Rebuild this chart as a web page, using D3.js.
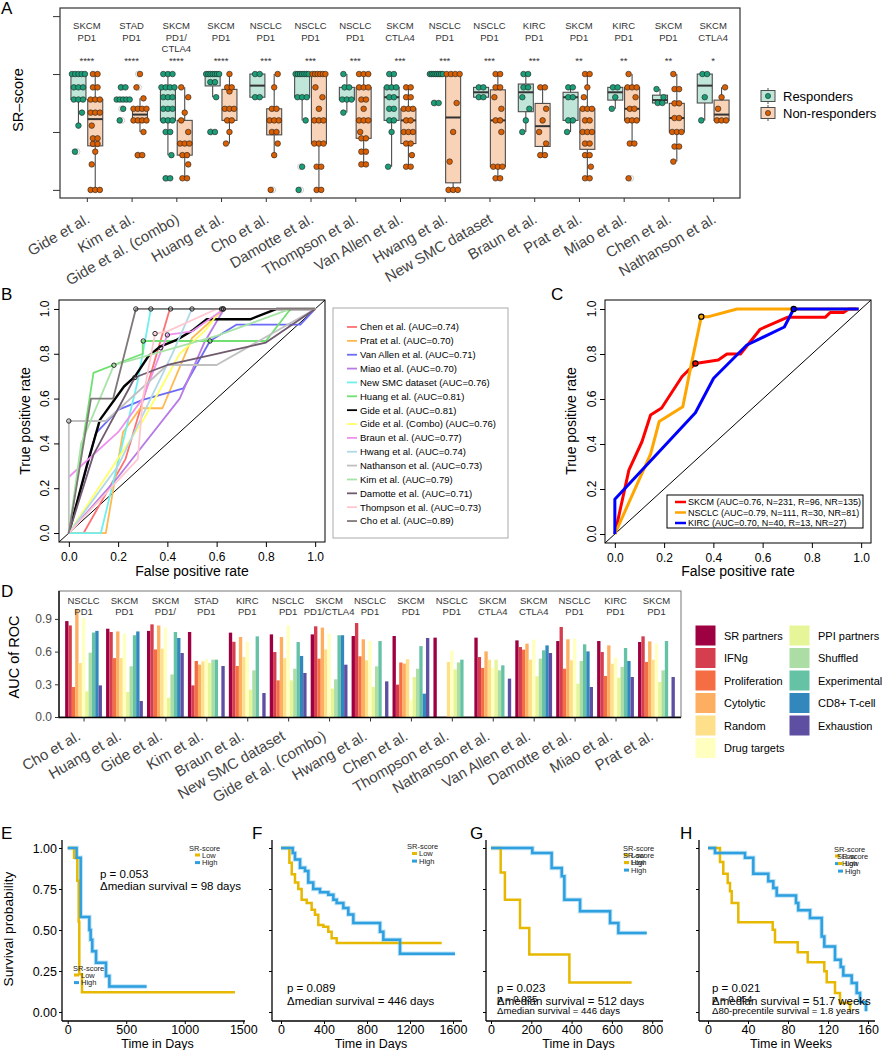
<!DOCTYPE html>
<html><head><meta charset="utf-8">
<script src="https://d3js.org/d3.v7.min.js"></script>
<style>body{margin:0;background:#fff;}svg{display:block;}</style>
</head><body>
<svg id="fig" width="883" height="1050" xmlns="http://www.w3.org/2000/svg"></svg>
<script>
// ================= DATA =================
// ---- Panel A ----
const datasetsA = ["Gide et al.","Kim et al.","Gide et al. (combo)","Huang et al.","Cho et al.","Damotte et al.","Thompson et al.","Van Allen et al.","Hwang et al.","New SMC dataset","Braun et al.","Prat et al.","Miao et al.","Chen et al.","Nathanson et al."];
const cancerA = ["SKCM","STAD","SKCM","SKCM","NSCLC","NSCLC","NSCLC","SKCM","NSCLC","NSCLC","KIRC","SKCM","KIRC","SKCM","SKCM"];
const therapyA = ["PD1","PD1","PD1/\nCTLA4","PD1","PD1","PD1","PD1","CTLA4","PD1","PD1","PD1","PD1","PD1","PD1","CTLA4"];
const starsA = ["****","****","****","****","***","***","***","***","***","***","***","**","**","**","*"];
const respA = [
 [0.33,0.555,0.667,0.78,0.78,0.78,0.885,0.885,0.885,1,1,1,1,1],
 [0.6,0.7,0.78,0.78,0.78,0.78,0.78,0.885,0.885],
 [0.1,0.1,0.3,0.5,0.5,0.6,0.6,0.6,0.7,0.7,0.7,0.8,0.8,0.8,0.885,0.885,0.885,0.885,1,1,1],
 [0.5,0.5,0.8,0.93,0.93,1,1,1,1,1,1,1],
 [0.8,0.8,1,1],
 [0,0.2,0.6,0.8,0.8,0.8,1,1,1,1,1,1,1],
 [0.667,0.78,0.78,0.78,0.885,0.885,1],
 [0.2,0.5,0.6,0.6,0.7,0.7,0.8,0.8,0.885,0.885,0.885,1,1],
 [0.75,0.75,1,1,1,1,1,1,1,1],
 [0.8,0.8,0.885,0.885],
 [0.5,0.6,0.7,0.8,0.885,0.885,1,1],
 [0.5,0.6,0.6,0.8,0.8,0.885,0.885],
 [0.7,0.8,0.885,0.885],
 [0.75,0.75,0.8,0.87],
 [0.6,0.8,1,1]
];
const nonRespA = [
 [0,0,0,0.22,0.33,0.397,0.397,0.445,0.445,0.555,0.667,0.667,0.667,0.78,0.78,0.78,0.885,0.885,1,1],
 [0.3,0.3,0.5,0.6,0.6,0.6,0.6,0.7,0.7,0.7,0.7,0.79,0.885,1],
 [0.1,0.1,0.22,0.3,0.3,0.4,0.4,0.4,0.5,0.6,0.667,0.8,0.885],
 [0.4,0.5,0.6,0.6,0.7,0.7,0.7,0.85,0.885,0.885,1],
 [0,0.3,0.4,0.5,0.5,0.6,0.6,0.6,0.7,0.7,0.885,1],
 [0,0,0.2,0.2,0.4,0.4,0.4,0.6,0.6,0.6,0.7,0.8,0.885,1,1,1,1,1,1],
 [0.22,0.22,0.33,0.33,0.445,0.445,0.5,0.6,0.6,0.6,0.7,0.78,0.78,0.885,0.885,0.885,1,1,1],
 [0.2,0.2,0.3,0.4,0.4,0.5,0.5,0.5,0.6,0.6,0.7,0.7,0.7,0.8,0.8,0.885,0.885],
 [0,0,0,0.244,0.5,0.75,1,1,1,1],
 [0.1,0.1,0.2,0.2,0.2,0.5,0.6,0.6,0.7,0.8,0.885,0.885,1,1],
 [0.3,0.3,0.4,0.5,0.6,0.7,0.885,0.885],
 [0.1,0.1,0.2,0.3,0.3,0.4,0.4,0.5,0.5,0.5,0.6,0.6,0.7,0.7,0.7,0.8,0.885,1,1],
 [0.1,0.4,0.4,0.6,0.6,0.6,0.7,0.7,0.8,0.885,0.885,0.885,1],
 [0.244,0.374,0.374,0.5,0.5,0.5,0.62,0.62,0.747,0.747,0.87,0.87,1],
 [0.6,0.6,0.6,0.7,0.8,0.885]
];
const groupsA = ["Responders","Non-responders"];

// ---- Panel B ----
const rocNamesB = ["Chen et al.","Prat et al.","Van Allen et al.","Miao et al.","New SMC dataset","Huang et al.","Gide et al.","Gide et al. (Combo)","Braun et al.","Hwang et al.","Nathanson et al.","Kim et al.","Damotte et al.","Thompson et al.","Cho et al."];
const aucB = [0.74,0.70,0.71,0.70,0.76,0.81,0.81,0.76,0.77,0.74,0.73,0.79,0.71,0.73,0.89];
const fprB = [
 [0,0.06,0.23,0.33,0.41,1],
 [0,0.15,0.22,0.29,0.38,0.5,0.63,1],
 [0,0.11,0.2,0.3,0.465,0.573,0.68,0.94,1],
 [0,0.2,0.45,0.55,0.63,1],
 [0,0.13,0.28,0.333,1],
 [0,0.1,0.3,0.3,0.8,0.9,1],
 [0,0.072,0.126,0.224,0.268,0.322,0.37,0.438,0.505,0.56,0.736,0.844,1],
 [0,0.3,0.45,0.55,0.62,1],
 [0,0.2,0.3,0.4,0.5,0.63,1],
 [0,0.2,0.42,0.5,1],
 [0,0,0.15,0.4,0.6,1],
 [0,0.05,0.183,0.6,0.9,1],
 [0,0.1,0.268,0.4,0.6,0.8,1],
 [0,0.28,0.3,0.35,0.4,0.6,1],
 [0,0.09,0.18,0.272,1]
];
const tprB = [
 [0,0,0.33,0.7,1,1],
 [0,0,0.45,0.557,0.557,0.87,1,1],
 [0,0.446,0.55,0.594,0.646,0.857,0.93,0.93,1],
 [0,0.25,0.6,0.85,1,1],
 [0,0,0.68,1,1],
 [0,0.715,0.8,0.857,0.857,1,1],
 [0,0.297,0.505,0.654,0.698,0.788,0.832,0.862,0.906,0.954,0.954,1,1],
 [0,0.5,0.8,0.9,1,1],
 [0.25,0.45,0.6,0.884,0.9,1,1],
 [0,0.3,0.8,1,1],
 [0,0.5,0.5,0.75,0.75,1],
 [0,0.4,0.749,0.88,1,1],
 [0,0.35,0.694,0.75,0.8,0.85,1],
 [0,0.33,0.6,0.89,0.9,1,1],
 [0,0.6,0.6,1,1]
];
const markFprB = [0.413,0.627,0.573,0.627,0.333,0.302,0.373,0.62,0.4,0.5,0,0.183,0.268,0.35,0.272];
const markTprB = [1,1,0.857,1,1,0.857,0.827,1,0.884,1,0.5,0.749,0.694,0.89,1];

// ---- Panel C ----
const groupsC = ["SKCM","NSCLC","KIRC"];
const aucC = [0.76,0.79,0.70];
const nC = [231,111,40];
const rC = [96,30,13];
const nrC = [135,81,27];
const fprC = [
 [0,0.02,0.057,0.11,0.145,0.19,0.273,0.327,0.42,0.455,0.51,0.59,0.7,0.854,0.874,0.928,0.95,0.98],
 [0,0.145,0.18,0.276,0.307,0.351,0.381,0.496,0.726,0.99],
 [0,0,0.327,0.401,0.536,0.688,0.726,0.99]
];
const tprC = [
 [0,0.1,0.284,0.41,0.529,0.56,0.7,0.758,0.773,0.8,0.8,0.91,0.963,0.963,0.984,0.984,1,1],
 [0,0.355,0.5,0.566,0.736,0.966,0.966,1,1,1],
 [0,0.154,0.539,0.692,0.84,0.92,1,1]
];
const markFprC = [0.327,0.351,0.726];
const markTprC = [0.758,0.966,1];

// ---- Panel D ----
const datasetsD = ["Cho et al.","Huang et al.","Gide et al.","Kim et al.","Braun et al.","New SMC dataset","Gide et al. (combo)","Hwang et al.","Chen et al.","Thompson et al.","Nathanson et al.","Van Allen et al.","Damotte et al.","Miao et al.","Prat et al."];
const cancerD = ["NSCLC","SKCM","SKCM","STAD","KIRC","NSCLC","SKCM","NSCLC","SKCM","NSCLC","SKCM","SKCM","NSCLC","KIRC","SKCM"];
const therapyD = ["PD1","PD1","PD1/","PD1","PD1","PD1","PD1/CTLA4","PD1","PD1","PD1","CTLA4","CTLA4","PD1","PD1","PD1"];
const methodsD = ["SR partners","IFNg","Proliferation","Cytolytic","Random","Drug targets","PPI partners","Shuffled","Experimental","CD8+ T-cell","Exhaustion"];
const aucD = [
 [0.88,0.84,0.275,0.99,0.495,0.91,0.235,0.59,0.775,0.79,0.29],
 [0.81,0.78,0.54,0.785,0.54,0.765,0.23,0.465,0.75,0.785,0.147],
 [0.79,0.85,0.62,0.84,0.627,0.82,0.177,0.39,0.78,0.725,0.587],
 [0.78,0.29,0.514,0.48,0.51,0.53,0.495,0.526,0.526,null,0.468],
 [0.774,0.69,0.468,0.734,0.55,0.69,0.25,0.428,0.74,null,0.22],
 [0.758,0.596,0.336,0.734,0.54,0.84,0.336,0.443,0.688,0.56,0.404],
 [0.758,0.832,0.535,0.82,0.62,0.765,0.26,0.346,0.75,0.75,0.48],
 [0.743,0.862,0.557,0.713,0.52,0.697,0.275,0.465,0.697,null,0.327],
 [0.743,0.297,0.5,0.49,0.53,0.16,0.367,0.443,0.65,0.214,0.725],
 [0.728,null,null,null,0.505,0.61,0.437,0.5,0.526,null,null],
 [0.728,0.55,0.45,0.602,0.526,0.45,0.526,0.428,0.474,null,0.352],
 [0.703,0.642,0.618,0.673,0.526,0.71,0.373,0.535,0.612,0.657,0.587],
 [0.697,0.826,0.443,0.713,0.52,0.719,0.306,0.514,0.667,0.602,0.275],
 [0.697,0.596,0.376,0.657,0.489,0.544,0.36,0.459,0.633,0.514,0.367],
 [0.688,0.74,0.505,0.694,0.526,0.673,0.321,0.428,0.697,null,0.367]
];

// ---- Panels E-H (Kaplan-Meier) ----
const tE_low = [0,54,82,94,99,122,1429];
const sE_low = [1,0.94,0.8,0.55,0.23,0.12,0.12];
const tE_high = [0,76,111,185,196,210,242,327,356,674];
const sE_high = [1,0.94,0.58,0.5,0.44,0.37,0.3,0.22,0.156,0.156];
const tF_low = [0,78,100,130,161,192,239,285,316,347,394,440,471,518,1495];
const sF_low = [1,0.91,0.84,0.79,0.75,0.685,0.665,0.624,0.593,0.53,0.52,0.49,0.45,0.42,0.42];
const tF_high = [0,109,130,177,223,254,300,363,440,487,518,580,626,673,921,952,1107,1619];
const sF_high = [1,0.97,0.93,0.88,0.86,0.79,0.75,0.73,0.715,0.685,0.665,0.634,0.594,0.543,0.49,0.44,0.355,0.355];
const tG_low = [0,48,69,144,190,389,698];
const sG_low = [1,0.85,0.685,0.512,0.35,0.18,0.18];
const tG_high = [0,205,301,351,364,442,591,632,773];
const sG_high = [1,0.97,0.878,0.827,0.685,0.614,0.543,0.482,0.482];
const tH_low = [0,12,15.3,19.7,22,23.7,30.3,64.7,67,89.7,99.7,116.3,118.7,127,132,142];
const sH_low = [1,0.915,0.843,0.787,0.736,0.665,0.547,0.502,0.425,0.364,0.303,0.248,0.181,0.116,0.055,0.004];
const tH_high = [0,7,37,45.3,60.3,65.3,68.7,88,90.3,102,113.7,116.3,127,132.7,135.3,143.7,148.7,152,158];
const sH_high = [1,0.97,0.94,0.843,0.797,0.756,0.711,0.665,0.62,0.573,0.461,0.4,0.319,0.274,0.222,0.177,0.116,0.059,0.004];
const survTicksY = [0,0.25,0.5,0.75,1];
const survTicksE = [0,500,1000,1500];
const survTicksF = [0,400,800,1200,1600];
const survTicksG = [0,200,400,600,800];
const survTicksH = [0,40,80,120,160];

// ================= STYLES =================
const FONT = '"Liberation Sans", Arial, Helvetica, sans-serif';
const fillA = ["#bfe6d8","#f8d3b8"], ptA = ["#1b9e77","#d95f02"];
const colorsB = ["#ff7070","#ffb84d","#6b6bf5","#b77be8","#6ff0f0","#70e070","#000000","#ffff66","#ee90ee","#b0d8e6","#c0c0c0","#a8e4a8","#6f5a6e","#ffc8d0","#7f7878"];
const colorsC = ["#ff0000","#ffa500","#0000ff"];
const colorsD = ["#9e0142","#d53e4f","#f46d43","#fdae61","#fee08b","#ffffbf","#e6f598","#abdda4","#66c2a5","#3288bd","#5e4fa2"];
const LOW = "#E7B800", HIGH = "#2E9FDF";

const svg = d3.select("#fig").style("font-family", FONT);
svg.append("rect").attr("width",883).attr("height",1050).attr("fill","#fff");

function T(g,x,y,s,size,o={}){
  const t=g.append("text").attr("x",x).attr("y",y).attr("font-size",size)
    .attr("fill",o.fill||"#000").attr("text-anchor",o.anchor||"start").attr("font-family",FONT).text(s);
  if(o.rotate!=null) t.attr("transform",`rotate(${o.rotate},${x},${y})`);
  return t;
}
function styleAxis(g,size,color,lineColor){
  g.select(".domain").remove();
  g.selectAll("text").attr("font-size",size).attr("fill",color).attr("font-family",FONT);
  g.selectAll("line").attr("stroke",lineColor||"#000");
}

// panel letters
T(svg,1,14,"A",17); T(svg,1,300,"B",17); T(svg,551,300,"C",17); T(svg,1,597,"D",17);
T(svg,1,839,"E",17); T(svg,252,839,"F",17); T(svg,470,839,"G",17); T(svg,680,839,"H",17);

// ================= PANEL A =================
(function(){
  const g=svg.append("g");
  const xA=d3.scalePoint().domain(datasetsA).range([60,740]).padding(0.6);
  const yA=d3.scaleLinear().domain([-0.07,1.57]).range([198,8]);
  const DODGE=8.4, BW=15;
  function boxStats(v){const s=v.slice().sort(d3.ascending);const q1=d3.quantile(s,.25),med=d3.quantile(s,.5),q3=d3.quantile(s,.75),iqr=q3-q1;
    const inl=s.filter(x=>x>=q1-1.5*iqr-1e-9&&x<=q3+1.5*iqr+1e-9);
    return {q1,med,q3,lo:d3.min(inl),hi:d3.max(inl),out:s.filter(x=>x<q1-1.5*iqr-1e-9||x>q3+1.5*iqr+1e-9)};}
  function offsets(v){const counts=d3.rollup(v,a=>a.length,d=>d);const seen=new Map();
    return v.map((d,i)=>{const k=counts.get(d);const j=seen.get(d)||0;seen.set(d,j+1);
      if(k===1) return ((i%3)-1)*3.5; const sp=Math.min(4.6,13/(k-1)); return (j-(k-1)/2)*sp;});}
  datasetsA.forEach((d,i)=>{
    const cx=xA(d);
    [respA[i],nonRespA[i]].forEach((vals,gi)=>{
      const st=boxStats(vals), bx=cx+(gi===0?-DODGE:DODGE);
      g.append("line").attr("x1",bx).attr("x2",bx).attr("y1",yA(st.hi)).attr("y2",yA(st.lo)).attr("stroke","#4d4d4d").attr("stroke-width",1.1);
      g.append("rect").attr("x",bx-BW/2).attr("y",yA(st.q3)).attr("width",BW).attr("height",Math.max(0.01,yA(st.q1)-yA(st.q3)))
        .attr("fill",fillA[gi]).attr("stroke","#4d4d4d").attr("stroke-width",1.1);
      g.append("line").attr("x1",bx-BW/2).attr("x2",bx+BW/2).attr("y1",yA(st.med)).attr("y2",yA(st.med)).attr("stroke","#333").attr("stroke-width",2);
      st.out.forEach(v=>g.append("circle").attr("cx",bx-1.5).attr("cy",yA(v)).attr("r",3).attr("fill","none").attr("stroke","#cfcfcf").attr("stroke-width",1));
      const off=offsets(vals);
      vals.forEach((v,j)=>g.append("circle").attr("cx",bx+off[j]).attr("cy",yA(v)).attr("r",2.8).attr("fill",ptA[gi]).attr("stroke","#222").attr("stroke-width",0.6));
    });
    const lines=[cancerA[i]].concat(therapyA[i].split("\n"));
    lines.forEach((s,k)=>T(g,cx,29.2+k*11.3,s,9.5,{anchor:"middle",fill:"#333"}));
    T(g,cx,63.5,starsA[i],9.5,{anchor:"middle",fill:"#333"});
    T(g,cx+4,222,d,15,{anchor:"end",fill:"#444",rotate:-30});
  });
  g.append("g").attr("transform","translate(60,0)").call(d3.axisLeft(yA).tickValues([0,0.5,1,1.5]).tickFormat("").tickSize(7)).call(a=>styleAxis(a,10,"#333","#333"));
  g.append("g").attr("transform","translate(0,198)").call(d3.axisBottom(xA).tickFormat("").tickSize(4)).call(a=>styleAxis(a,10,"#333","#333"));
  g.append("rect").attr("x",60).attr("y",8).attr("width",680).attr("height",190).attr("fill","none").attr("stroke","#333").attr("stroke-width",1.2);
  T(g,23,100,"SR\u2013score",14.5,{anchor:"middle",rotate:-90});
  groupsA.forEach((s,gi)=>{
    const cy=96+gi*17;
    g.append("line").attr("x1",768).attr("x2",768).attr("y1",cy-8).attr("y2",cy+8).attr("stroke","#4d4d4d");
    g.append("rect").attr("x",761).attr("y",cy-5.5).attr("width",14).attr("height",11).attr("fill",fillA[gi]).attr("stroke","#4d4d4d");
    g.append("circle").attr("cx",768).attr("cy",cy).attr("r",2.6).attr("fill",ptA[gi]).attr("stroke","#222").attr("stroke-width",0.6);
    T(g,783,cy+4.6,s,13);
  });
})();

// ================= PANEL B =================
(function(){
  const g=svg.append("g");
  const xB=d3.scaleLinear().domain([-0.04,1.04]).range([59,325]);
  const yB=d3.scaleLinear().domain([-0.04,1.04]).range([542,300]);
  g.append("clipPath").attr("id","clipB").append("rect").attr("x",59).attr("y",300).attr("width",266).attr("height",242);
  const p=g.append("g").attr("clip-path","url(#clipB)");
  p.append("line").attr("x1",xB(-0.04)).attr("y1",yB(-0.04)).attr("x2",xB(1.04)).attr("y2",yB(1.04)).attr("stroke","#000").attr("stroke-width",1);
  const line=d3.line().x(d=>xB(d[0])).y(d=>yB(d[1]));
  rocNamesB.forEach((n,i)=>p.append("path").attr("d",line(d3.zip(fprB[i],tprB[i]))).attr("fill","none")
    .attr("stroke",colorsB[i]).attr("stroke-width",n==="Gide et al."?2.4:1.8).attr("stroke-linejoin","round"));
  rocNamesB.forEach((n,i)=>p.append("circle").attr("cx",xB(markFprB[i])).attr("cy",yB(markTprB[i])).attr("r",2.2).attr("fill","none").attr("stroke","#222").attr("stroke-width",1));
  g.append("rect").attr("x",59).attr("y",300).attr("width",266).attr("height",242).attr("fill","none").attr("stroke","#000");
  const tk=[0,0.2,0.4,0.6,0.8,1];
  g.append("g").attr("transform","translate(0,542)").call(d3.axisBottom(xB).tickValues(tk).tickFormat(d3.format(".1f")).tickSize(5).tickPadding(5)).call(a=>styleAxis(a,12,"#000"));
  g.append("g").attr("transform","translate(59,0)").call(d3.axisLeft(yB).tickValues(tk).tickFormat("").tickSize(5)).call(a=>styleAxis(a,12,"#000"));
  tk.forEach(v=>T(g,49.5,yB(v),d3.format(".1f")(v),12,{anchor:"middle",rotate:-90}));
  T(g,192,576,"False positive rate",14,{anchor:"middle"});
  T(g,30,421,"True positive rate",14,{anchor:"middle",rotate:-90});
  // legend
  g.append("rect").attr("x",333).attr("y",308).attr("width",175).attr("height",230).attr("fill","#fff").attr("stroke","#aaa");
  rocNamesB.forEach((n,i)=>{const y=327+i*13.86;
    g.append("line").attr("x1",347).attr("x2",357).attr("y1",y).attr("y2",y).attr("stroke",colorsB[i]).attr("stroke-width",1.8);
    T(g,360,y+3.4,`${n} (AUC=${aucB[i].toFixed(2)})`,9.5);});
})();

// ================= PANEL C =================
(function(){
  const g=svg.append("g");
  const xC=d3.scaleLinear().domain([-0.04,1.04]).range([605,871]);
  const yC=d3.scaleLinear().domain([-0.04,1.04]).range([543,300]);
  g.append("clipPath").attr("id","clipC").append("rect").attr("x",605).attr("y",300).attr("width",266).attr("height",243);
  const p=g.append("g").attr("clip-path","url(#clipC)");
  p.append("line").attr("x1",xC(-0.04)).attr("y1",yC(-0.04)).attr("x2",xC(1.04)).attr("y2",yC(1.04)).attr("stroke","#000").attr("stroke-width",1);
  const line=d3.line().x(d=>xC(d[0])).y(d=>yC(d[1]));
  groupsC.forEach((n,i)=>p.append("path").attr("d",line(d3.zip(fprC[i],tprC[i]))).attr("fill","none").attr("stroke",colorsC[i]).attr("stroke-width",3).attr("stroke-linejoin","round"));
  groupsC.forEach((n,i)=>p.append("circle").attr("cx",xC(markFprC[i])).attr("cy",yC(markTprC[i])).attr("r",2.6).attr("fill",colorsC[i]).attr("stroke","#000").attr("stroke-width",1.2));
  g.append("rect").attr("x",605).attr("y",300).attr("width",266).attr("height",243).attr("fill","none").attr("stroke","#000");
  const tk=[0,0.2,0.4,0.6,0.8,1];
  g.append("g").attr("transform","translate(0,543)").call(d3.axisBottom(xC).tickValues(tk).tickFormat(d3.format(".1f")).tickSize(5).tickPadding(5)).call(a=>styleAxis(a,12,"#000"));
  g.append("g").attr("transform","translate(605,0)").call(d3.axisLeft(yC).tickValues(tk).tickFormat("").tickSize(5)).call(a=>styleAxis(a,12,"#000"));
  tk.forEach(v=>T(g,596,yC(v),d3.format(".1f")(v),12,{anchor:"middle",rotate:-90}));
  T(g,738,576,"False positive rate",14,{anchor:"middle"});
  T(g,576,421,"True positive rate",14,{anchor:"middle",rotate:-90});
  g.append("rect").attr("x",667).attr("y",495).attr("width",196).attr("height",33).attr("fill","#fff").attr("stroke","#000");
  groupsC.forEach((n,i)=>{const y=502+i*10.5;
    g.append("line").attr("x1",675).attr("x2",686).attr("y1",y).attr("y2",y).attr("stroke",colorsC[i]).attr("stroke-width",2.5);
    T(g,688,y+3.2,`${n} (AUC=${aucC[i].toFixed(2)}, N=${nC[i]}, R=${rC[i]}, NR=${nrC[i]})`,9);});
})();

// ================= PANEL D =================
(function(){
  const g=svg.append("g");
  const xD=d3.scalePoint().domain(datasetsD).range([59,681]).padding(0.6);
  const sub=d3.scaleBand().domain(methodsD).range([-18.4,18.4]);
  const yD=d3.scaleLinear().domain([0,1]).range([717,608]);
  g.append("rect").attr("x",59).attr("y",591).attr("width",622).attr("height",126).attr("fill","none").attr("stroke","#777");
  datasetsD.forEach((d,i)=>methodsD.forEach((m,j)=>{const v=aucD[i][j]; if(v==null) return;
    g.append("rect").attr("x",xD(d)+sub(m)).attr("y",yD(v)).attr("width",sub.bandwidth()).attr("height",yD(0)-yD(v)).attr("fill",colorsD[j]);}));
  datasetsD.forEach((d,i)=>{
    T(g,xD(d),603.5,cancerD[i],9.5,{anchor:"middle",fill:"#333"});
    T(g,xD(d),614.5,therapyD[i],9.5,{anchor:"middle",fill:"#333"});
    T(g,xD(d)-2,739,d,15,{anchor:"end",fill:"#444",rotate:-30});
  });
  g.append("line").attr("x1",59).attr("x2",59).attr("y1",591).attr("y2",717.5).attr("stroke","#000").attr("stroke-width",1.3);
  g.append("line").attr("x1",58.5).attr("x2",681).attr("y1",717.5).attr("y2",717.5).attr("stroke","#000").attr("stroke-width",1.3);
  g.append("g").attr("transform","translate(59,0)").call(d3.axisLeft(yD).tickValues([0,0.3,0.6,0.9]).tickFormat(d3.format(".1f")).tickSize(4).tickPadding(3)).call(a=>styleAxis(a,12,"#4d4d4d","#333"));
  g.append("g").attr("transform","translate(0,717.5)").call(d3.axisBottom(xD).tickFormat("").tickSize(4)).call(a=>styleAxis(a,12,"#4d4d4d","#333"));
  T(g,19,657,"AUC of ROC",14.5,{anchor:"middle",rotate:-90});
  methodsD.forEach((m,j)=>{const col=j<6?0:1, row=j<6?j:j-6;
    const x=col===0?695:789, y=625+row*22.5;
    g.append("rect").attr("x",x).attr("y",y).attr("width",21).attr("height",21).attr("fill",colorsD[j]).attr("stroke","#fff");
    T(g,x+29,y+14.8,m,11);});
})();

// ================= PANELS E-H =================
const yS=d3.scaleLinear().domain([0,1]).range([1012,848]);
function survPanel(opt){
  const g=svg.append("g");
  const xs=opt.x;
  const step=d3.line().curve(d3.curveStepAfter).x(d=>xs(d[0])).y(d=>yS(d[1]));
  g.append("line").attr("x1",opt.ax0).attr("x2",opt.ax1).attr("y1",1021).attr("y2",1021).attr("stroke","#000").attr("stroke-width",1.3);
  g.append("line").attr("x1",opt.ax0).attr("x2",opt.ax0).attr("y1",840).attr("y2",1021).attr("stroke","#000").attr("stroke-width",1.3);
  g.append("g").attr("transform","translate(0,1021)").call(d3.axisBottom(xs).tickValues(opt.ticks).tickFormat(d3.format("d")).tickSize(3).tickPadding(1)).call(a=>styleAxis(a,12.5,"#000"));
  g.append("g").attr("transform",`translate(${opt.ax0},0)`).call(d3.axisLeft(yS).tickValues(survTicksY).tickFormat(opt.showY?d3.format(".2f"):"").tickSize(3).tickPadding(2)).call(a=>styleAxis(a,12.5,"#000"));
  T(g,(opt.ax0+opt.ax1)/2+4,1048,opt.xlabel,12.5,{anchor:"middle"});
  g.append("path").attr("d",step(d3.zip(opt.tHigh,opt.sHigh))).attr("fill","none").attr("stroke","#bfe3f6").attr("stroke-width",4.5);
  g.append("path").attr("d",step(d3.zip(opt.tLow,opt.sLow))).attr("fill","none").attr("stroke",LOW).attr("stroke-width",2.5);
  g.append("path").attr("d",step(d3.zip(opt.tHigh,opt.sHigh))).attr("fill","none").attr("stroke",HIGH).attr("stroke-width",2.5);
  return g;
}
function survLegend(g,tx,ty,kx){
  T(g,tx,ty+2.7,"SR-score",7.5,{fill:"#222"});
  [["Low",LOW],["High",HIGH]].forEach(([s,c],k)=>{const y=ty+7+k*7.6;
    g.append("line").attr("x1",kx).attr("x2",kx+5).attr("y1",y).attr("y2",y).attr("stroke",c).attr("stroke-width",3);
    T(g,kx+7,y+2.7,s,7.5,{fill:"#222"});});
}
// E
(function(){
  const g=survPanel({x:d3.scaleLinear().domain([0,1500]).range([67.7,243.3]),ax0:62,ax1:245,ticks:survTicksE,xlabel:"Time in Days",showY:true,
    tLow:tE_low,sLow:sE_low,tHigh:tE_high,sHigh:sE_high});
  T(g,13,929,"Survival probability",13.7,{anchor:"middle",rotate:-90});
  T(g,100,878,"p = 0.053",11.5);
  T(g,100,890,"\u0394median survival = 98 days",11.5);
  survLegend(g,189,848,195);
  survLegend(g,73,968,74);
})();
// F
(function(){
  const g=survPanel({x:d3.scaleLinear().domain([0,1600]).range([281,453]),ax0:272,ax1:462,ticks:survTicksF,xlabel:"Time in Days",showY:false,
    tLow:tF_low,sLow:sF_low,tHigh:tF_high,sHigh:sF_high});
  T(g,287,992,"p = 0.089",11.5);
  T(g,287,1005,"\u0394median survival = 446 days",11.5);
  survLegend(g,407,846.5,412);
})();
// G
(function(){
  const g=survPanel({x:d3.scaleLinear().domain([0,800]).range([491,652.2]),ax0:486,ax1:663,ticks:survTicksG,xlabel:"Time in Days",showY:false,
    tLow:tG_low,sLow:sG_low,tHigh:tG_high,sHigh:sG_high});
  T(g,497,992,"p = 0.023",11.5);
  T(g,497,1001.5,"p = 0.035",9.6);
  T(g,497,1005,"\u0394median survival = 512 days",11.5);
  T(g,497,1014,"\u0394median survival = 446 days",9.6);
  survLegend(g,623,848,624);
  survLegend(g,623,855.5,624);
})();
// H
(function(){
  const g=survPanel({x:d3.scaleLinear().domain([0,160]).range([708,868]),ax0:699,ax1:875,ticks:survTicksH,xlabel:"Time in Weeks",showY:false,
    tLow:tH_low,sLow:sH_low,tHigh:tH_high,sHigh:sH_high});
  T(g,712,992,"p = 0.021",11.5);
  T(g,712,1001.5,"p = 0.054",9.6);
  T(g,712,1005,"\u0394median survival = 51.7 weeks",11.5);
  T(g,712,1014,"\u039480-precentile survival = 1.8 years",9.6);
  survLegend(g,834,849,835);
  survLegend(g,837,856.5,838);
})();
</script></body></html>
